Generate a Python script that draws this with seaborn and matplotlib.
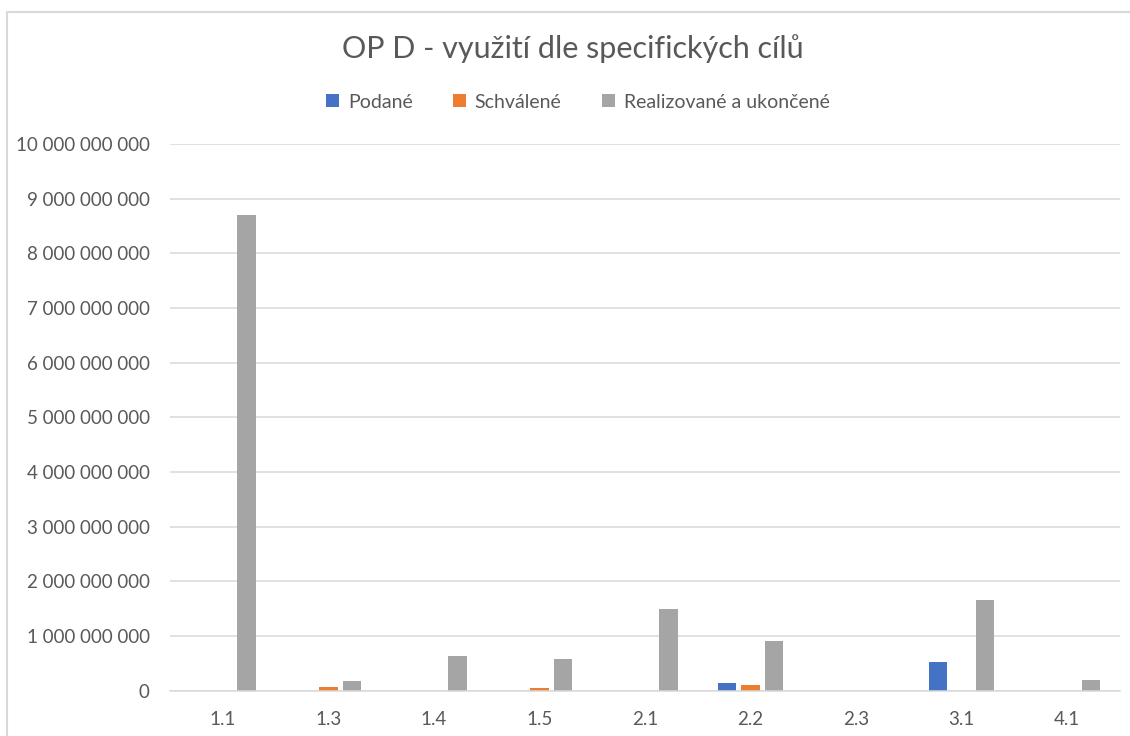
import matplotlib
matplotlib.use("Agg")
import matplotlib.pyplot as plt
import matplotlib.ticker as mticker
from matplotlib.patches import Patch
from matplotlib.lines import Line2D
import seaborn as sns
import pandas as pd

# ---- data ----
categories = ["1.1", "1.3", "1.4", "1.5", "2.1", "2.2", "2.3", "3.1", "4.1"]
podane = [0, 0, 0, 0, 0, 135_000_000, 0, 530_000_000, 0]
schvalene = [0, 70_000_000, 0, 40_000_000, 0, 105_000_000, 0, 0, 0]
realizovane = [8_700_000_000, 180_000_000, 630_000_000, 580_000_000,
               1_490_000_000, 910_000_000, 0, 1_650_000_000, 200_000_000]
series_names = ["Podané", "Schválené", "Realizované a ukončené"]
colors = ["#4472C4", "#ED7D31", "#A5A5A5"]
y_ticks = [i * 1_000_000_000 for i in range(11)]
title = "OP D - využití dle specifických cílů"

df = pd.DataFrame({
    "cat": categories * 3,
    "value": podane + schvalene + realizovane,
    "series": [series_names[0]] * 9 + [series_names[1]] * 9 + [series_names[2]] * 9,
})

sns.set_theme(style="white")
plt.rcParams["font.family"] = ["Lato", "DejaVu Sans"]

W, H = 1130, 736
fig = plt.figure(figsize=(W / 100, H / 100), dpi=100)
ax = fig.add_axes([170 / W, (H - 690.5) / H, (1120 - 170) / W, (690.5 - 144) / H])

sns.barplot(data=df, x="cat", y="value", hue="series", order=categories,
            hue_order=series_names, palette=colors, width=0.67, gap=0.22,
            saturation=1, linewidth=0, ax=ax, legend=False)

ax.set_ylim(0, 10_000_000_000)
ax.set_yticks(y_ticks)
ax.yaxis.set_major_formatter(mticker.FuncFormatter(lambda v, p: f"{int(round(v)):,}".replace(",", " ")))
ax.grid(axis="y", color="#D9D9D9", linewidth=1.1)
ax.set_axisbelow(True)
for s in ["left", "right", "top"]:
    ax.spines[s].set_visible(False)
ax.spines["bottom"].set_color("#D9D9D9")
ax.spines["bottom"].set_linewidth(1.1)
ax.tick_params(axis="both", length=0, labelsize=13.5, labelcolor="#595959")
ax.tick_params(axis="y", pad=14.5)
ax.tick_params(axis="x", pad=15)
ax.set_xlabel("")
ax.set_ylabel("")

fig.text(573 / W, 1 - 49 / H, title, ha="center", va="center",
         fontsize=22, color="#595959")

handles = [Patch(facecolor=c, edgecolor="none") for c in colors]
leg = fig.legend(handles, series_names, loc="center", bbox_to_anchor=(578 / W, 1 - 102 / H),
                 ncol=3, frameon=False, fontsize=14, handlelength=0.65, handleheight=0.65,
                 handletextpad=0.45, columnspacing=2.1)
for t in leg.get_texts():
    t.set_color("#595959")

# chart area border (cropped on the right / bottom)
fig.add_artist(Line2D([6.5 / W, 1], [1 - 12 / H, 1 - 12 / H], color="#D9D9D9", linewidth=1.5,
                      transform=fig.transFigure))
fig.add_artist(Line2D([6.5 / W, 6.5 / W], [0, 1 - 12 / H], color="#D9D9D9", linewidth=1.5,
                      transform=fig.transFigure))

fig.savefig("out.png", dpi=100, facecolor="white")
